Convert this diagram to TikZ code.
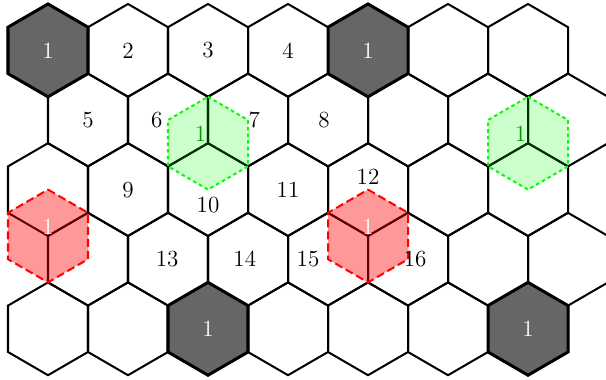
\documentclass[tikz,border=0pt]{standalone}
\usepackage{amsmath}
\usepackage{tikz}
\newcommand{\hexrad}{0.58}
\newcommand{\hexshape}{+(0,\hexrad) -- +(0.5,0.5*\hexrad) -- +(0.5,-0.5*\hexrad) -- +(0,-\hexrad) -- +(-0.5,-0.5*\hexrad) -- +(-0.5,0.5*\hexrad) -- cycle}
\tikzset{hexcell/.style={draw=black, line width=1pt},
  darkcell/.style={hexcell, fill=black!60, line width=1.5pt},
  greencell/.style={draw=green, fill=green, fill opacity=0.2, line width=1pt, dash pattern=on 1.8pt off 1.5pt},
  redcell/.style={draw=red, fill=red, fill opacity=0.4, line width=1pt, dash pattern=on 4pt off 2pt},
  celllabel/.style={inner sep=0pt, font=\fontsize{11.5}{13}\selectfont},
  darklabel/.style={celllabel, text=white}}

\begin{document}
\begin{tikzpicture}[x=1.4cm, y=1.4cm]

\useasboundingbox (-0.6,0.63) rectangle (6.975,-4.12);
\clip (-0.6,0.63) rectangle (6.975,-4.12);

% grid
\foreach \row in {0,2,4} \foreach \col in {0,...,6} \draw[hexcell] (\col,-0.87*\row) \hexshape;
\foreach \row in {1,3} \foreach \col in {0,...,6} \draw[hexcell] (\col+0.5,-0.87*\row) \hexshape;

\draw[darkcell] (0,0) \hexshape;
\draw[darkcell] (4,0) \hexshape;
\draw[darkcell] (2,-3.48) \hexshape;
\draw[darkcell] (6,-3.48) \hexshape;

\draw[greencell] (2,-1.16) \hexshape;
\draw[greencell] (6,-1.16) \hexshape;
\draw[redcell] (0,-2.32) \hexshape;
\draw[redcell] (4,-2.32) \hexshape;

\node[darklabel] (d1) at (0,0) {1};
\node[darklabel] (d2) at (4,0) {1};
\node[darklabel] (d3) at (2,-3.48) {1};
\node[darklabel] (d4) at (6,-3.48) {1};

\node[celllabel, anchor=south east, inner sep=0.7pt, text=green!60!black] (g1) at (2,-1.16) {1};
\node[celllabel, anchor=south east, inner sep=0.7pt, text=green!60!black] (g2) at (6,-1.16) {1};
\node[celllabel, anchor=south, inner sep=0.5pt, text=white] (r1) at (0,-2.32) {1};
\node[celllabel, anchor=south, inner sep=0.5pt, text=white] (r2) at (4,-2.32) {1};

\node[celllabel] (c2) at (1,0) {2};
\node[celllabel] (c3) at (2,0) {3};
\node[celllabel] (c4) at (3,0) {4};
\node[celllabel] (c5) at (0.5,-0.87) {5};
\node[celllabel] (c6) at (1.36,-0.87) {6};
\node[celllabel] (c7) at (2.58,-0.87) {7};
\node[celllabel] (c8) at (3.45,-0.87) {8};
\node[celllabel] (c9) at (1,-1.74) {9};
\node[celllabel] (c10) at (2,-1.93) {10};
\node[celllabel] (c11) at (3,-1.74) {11};
\node[celllabel] (c12) at (4,-1.58) {12};
\node[celllabel] (c13) at (1.49,-2.61) {13};
\node[celllabel] (c14) at (2.46,-2.61) {14};
\node[celllabel] (c15) at (3.25,-2.61) {15};
\node[celllabel] (c16) at (4.59,-2.61) {16};

\end{tikzpicture}
\end{document}
